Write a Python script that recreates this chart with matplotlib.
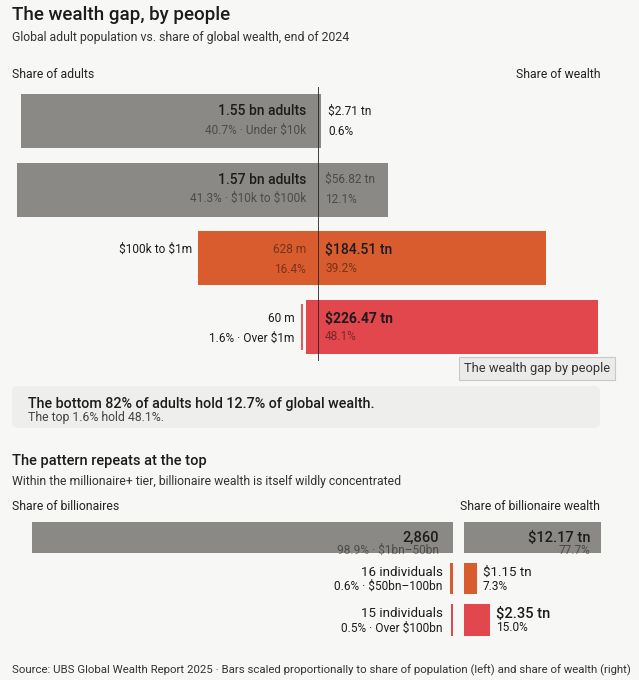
import matplotlib.pyplot as plt
from matplotlib.patches import FancyBboxPatch

plt.rcParams['font.family'] = ['Roboto', 'DejaVu Sans']
plt.rcParams['text.parse_math'] = False

# DATA - top chart (adults vs wealth)
tiers = ['Under $10k', '$10k to $100k', '$100k to $1m', 'Over $1m']
adults = ['1.55 bn', '1.57 bn', '628 m', '60 m']
adult_share = [40.7, 41.3, 16.4, 1.6]
wealth = ['$2.71 tn', '$56.82 tn', '$184.51 tn', '$226.47 tn']
wealth_share = [0.6, 12.1, 39.2, 48.1]

# DATA - bottom chart (billionaires)
b_tiers = ['$1bn\u201350bn', '$50bn\u2013100bn', 'Over $100bn']
b_people = ['2,860', '16 individuals', '15 individuals']
b_share = [98.9, 0.6, 0.5]
b_wealth = ['$12.17 tn', '$1.15 tn', '$2.35 tn']
b_wealth_share = [77.7, 7.3, 15.0]

# COLOURS
BG = '#f7f7f6'
GREY = '#8a8985'
ORANGE = '#d95c2f'
RED = '#e2474d'
DARK = '#1c1c1c'
SOFT = (0, 0, 0, 0.45)
top_colors = [GREY, GREY, ORANGE, RED]
bot_colors = [GREY, ORANGE, RED]

W, H = 639, 680
fig = plt.figure(figsize=(W / 100, H / 100), dpi=100, facecolor=BG)


def px_axes(x0, y0, x1, y1):
    ax = fig.add_axes([x0 / W, 1 - y1 / H, (x1 - x0) / W, (y1 - y0) / H])
    ax.set_axis_off()
    ax.patch.set_alpha(0)
    return ax


def ftext(x, y, s, **kw):
    kw.setdefault('va', 'center')
    kw.setdefault('color', DARK)
    fig.text(x / W, 1 - y / H, s, **kw)


def lab(ax, x, y, s, dx, dy, **kw):
    kw.setdefault('va', 'center')
    kw.setdefault('color', DARK)
    ax.annotate(s, (x, y), xytext=(dx, dy), textcoords='offset pixels',
                annotation_clip=False, **kw)


# HEADERS
ftext(12, 15, 'The wealth gap, by people', fontsize=13.5, fontweight='medium')
ftext(12, 38, 'Global adult population vs. share of global wealth, end of 2024',
      fontsize=8.8, color='#333333')
ftext(12, 74, 'Share of adults', fontsize=8.8, color='#222222')
ftext(600, 74, 'Share of wealth', fontsize=8.8, color='#222222', ha='right')

# TOP CHART
CX = 318
L_PX, R_PX = 7.3, 5.82
axL = px_axes(10, 86.7, CX, 361.3)
axR = px_axes(CX, 86.7, 610, 361.3)
axL.set_xlim((CX - 10) / L_PX, 0)
axR.set_xlim(0, (610 - CX) / R_PX)
for a in (axL, axR):
    a.set_ylim(3.5, -0.5)

ypos = range(len(tiers))
axL.barh(ypos, adult_share, height=0.79, color=top_colors, zorder=2)
axR.barh(ypos, wealth_share, height=0.79, color=top_colors, zorder=2)
axR.axvline(0, color='#222222', lw=1.2, zorder=5)
# small marker next to the thin top-tier bar
axL.vlines(adult_share[3] + 0.65, 3 - 0.33, 3 + 0.33, color=RED, lw=1.3)

for i in ypos:
    inside = adult_share[i] > 10
    if inside:
        if i < 2:
            lab(axL, 0, i, adults[i] + ' adults', -12, 10, ha='right',
                fontsize=10, fontweight='medium')
            lab(axL, 0, i, f'{adult_share[i]}% \u00b7 {tiers[i]}', -12, -9,
                ha='right', fontsize=8.6, color=SOFT)
        else:
            lab(axL, adult_share[i], i, tiers[i], -6, 9, ha='right',
                fontsize=8.6)
            lab(axL, 0, i, adults[i], -12, 9, ha='right', fontsize=8.6,
                color=SOFT)
            lab(axL, 0, i, f'{adult_share[i]}%', -12, -11, ha='right',
                fontsize=8.6, color=SOFT)
    else:
        lab(axL, adult_share[i], i, adults[i], -12, 8, ha='right',
            fontsize=8.6)
        lab(axL, adult_share[i], i, f'{adult_share[i]}% \u00b7 {tiers[i]}',
            -12, -11, ha='right', fontsize=8.6)

    big = wealth_share[i] > 30
    on_bar = wealth_share[i] > 5
    lab(axR, 0, i, wealth[i], 7 if on_bar else 10, 8 if big else 10,
        fontsize=10 if big else 8.6,
        fontweight=('bold' if i == 3 else 'medium') if big else 'normal',
        color=DARK if (big or not on_bar) else SOFT)
    lab(axR, 0, i, f'{wealth_share[i]}%', 7 if on_bar else 10, -10,
        fontsize=8.6, color=SOFT if on_bar else DARK)

# tooltip artefact
ftext(537, 368.5, 'The wealth gap by people', fontsize=9.3, color='#333333',
      ha='center',
      bbox=dict(boxstyle='square,pad=0.4', fc='#ebebea', ec='#c8c8c6', lw=0.8))

# CALLOUT
fig.patches.append(FancyBboxPatch((12 / W, 1 - 428 / H), 588 / W, 42 / H,
                                  boxstyle='round,pad=0,rounding_size=0.008',
                                  transform=fig.transFigure, fc='#eeeeec',
                                  ec='none', zorder=0))
ftext(28, 404, 'The bottom 82% of adults hold 12.7% of global wealth.',
      fontsize=10.3, fontweight='medium')
ftext(28, 418, 'The top 1.6% hold 48.1%.', fontsize=8.8, color='#444444')

# BOTTOM HEADERS
ftext(12, 461, 'The pattern repeats at the top', fontsize=10.5,
      fontweight='medium')
ftext(12, 481, 'Within the millionaire+ tier, billionaire wealth is itself '
      'wildly concentrated', fontsize=8.8, color='#333333')
ftext(12, 507, 'Share of billionaires', fontsize=8.8, color='#222222')
ftext(600, 507, 'Share of billionaire wealth', fontsize=8.8,
      color='#222222', ha='right')

# BOTTOM CHART
BL, BR = 453, 464
BL_PX, BR_PX = 4.26, 1.76
bL = px_axes(12, 517, BL, 640.5)
bR = px_axes(BR, 517, 610, 640.5)
bL.set_xlim((BL - 12) / BL_PX, 0)
bR.set_xlim(0, (610 - BR) / BR_PX)
for a in (bL, bR):
    a.set_ylim(2.5, -0.5)

bpos = range(len(b_tiers))
bL.barh(bpos, b_share, height=0.76, color=bot_colors, zorder=2)
bR.barh(bpos, b_wealth_share, height=0.76, color=bot_colors, zorder=2)

for i in bpos:
    if i == 0:
        lab(bL, 0, i, b_people[i], -14, 0, ha='right', fontsize=10.5,
            fontweight='medium')
        lab(bL, 0, i, f'{b_share[i]}% \u00b7 {b_tiers[i]}', -14, -13,
            ha='right', fontsize=8.6, color=SOFT)
        lab(bR, b_wealth_share[i], i, b_wealth[i], -10, 0, ha='right',
            fontsize=10.5, fontweight='medium')
        lab(bR, b_wealth_share[i], i, f'{b_wealth_share[i]}%', -10, -13,
            ha='right', fontsize=8.6, color=SOFT)
    else:
        lab(bL, b_share[i], i, b_people[i], -8, 6, ha='right',
            fontsize=9.6)
        lab(bL, b_share[i], i, f'{b_share[i]}% \u00b7 {b_tiers[i]}', -8, -8,
            ha='right', fontsize=8.6)
        big = i == 2
        lab(bR, b_wealth_share[i], i, b_wealth[i], 6, 6,
            fontsize=10.5 if big else 9.6,
            fontweight='medium' if big else 'normal')
        lab(bR, b_wealth_share[i], i, f'{b_wealth_share[i]}%', 6, -8,
            fontsize=8.6)

# SOURCE
ftext(12, 670, 'Source: UBS Global Wealth Report 2025 \u00b7 Bars scaled '
      'proportionally to share of population (left) and share of wealth '
      '(right)', fontsize=8.2, color='#333333')

fig.savefig('out.png', dpi=100, facecolor=BG)
